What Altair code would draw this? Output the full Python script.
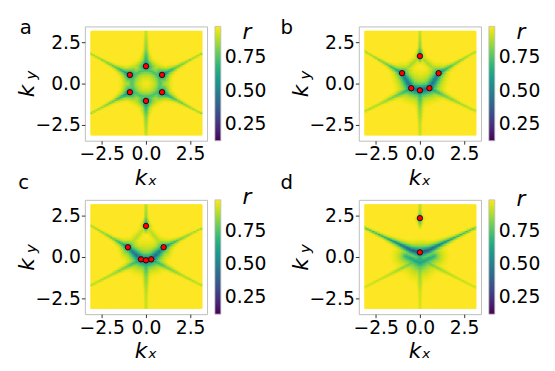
import numpy as np
import pandas as pd
import altair as alt

PI = np.pi
N = 72
DOM = 3.456
VMIN, VMAX = 0.125, 0.98

# ---- red markers ----
A_DOT_KX = [0.0, 0.91, -0.91, -0.91, 0.0, 0.91]
A_DOT_KY = [1.05, 0.525, 0.525, -0.525, -1.05, -0.525]
B_DOT_KX = [0.0, -1.01, 1.06, -0.49, 0.0, 0.54]
B_DOT_KY = [1.66, 0.63, 0.63, -0.28, -0.41, -0.28]
C_DOT_KX = [0.0, -1.02, 1.0, -0.28, 0.0, 0.3]
C_DOT_KY = [1.88, 0.59, 0.59, -0.14, -0.2, -0.14]
D_DOT_KX = [0.0, 0.0]
D_DOT_KY = [2.35, 0.28]

# ---- field structure: arms (start, angle), profiles along arm ----
ARM_S = [0.0, 0.4, 1.0, 2.0, 4.5]
A_ARM_ANG = [90, 30, 150, 210, 270, 330]
A_ARM_L = [0.45, 0.62, 0.73, 0.81, 0.86]
A_ARM_W = [0.36, 0.18, 0.095, 0.06, 0.045]
A_RING = (0.80, 0.72, 0.32)  # radius, level, width

B_UP_ANG = [148, 32]
B_LOW_ANG = [208, 270, 332]
UP_L = [0.48, 0.63, 0.74, 0.82, 0.86]
UP_W = [0.30, 0.16, 0.09, 0.06, 0.045]
LOW_L = [0.52, 0.67, 0.76, 0.83, 0.88]
LOW_W = [0.45, 0.24, 0.13, 0.08, 0.055]
TOP_S = [0.0, 0.45, 1.0, 2.0, 4.8]
TOP_L = [0.88, 0.50, 0.68, 0.78, 0.84]
TOP_W = [0.05, 0.15, 0.06, 0.045, 0.04]
B_BAND_L = [0.48, 0.37, 0.35, 0.37, 0.48]
B_BAND_W = [0.24, 0.32, 0.34, 0.32, 0.24]
C_UP_ANG = [148, 28]
C_LOW_ANG = [209, 270, 331]
C_BAND_L = [0.50, 0.33, 0.29, 0.33, 0.50]
C_BAND_W = [0.22, 0.33, 0.35, 0.33, 0.22]
D_SMILE_KX = [0.0, 0.5, 1.3, 2.2, 3.6]
D_SMILE_KY = [0.28, 0.42, 0.85, 1.30, 2.0]
D_SMILE_S = [0.0, 0.5, 1.2, 2.2, 4.0]
D_SMILE_L = [0.24, 0.31, 0.44, 0.62, 0.79]
D_SMILE_W = [0.27, 0.21, 0.14, 0.085, 0.06]
D_LOW_ANG = [209, 270, 331]
D_LOW_L = [0.64, 0.72, 0.80, 0.86, 0.90]
D_LOW_W = [0.48, 0.27, 0.14, 0.08, 0.055]
D_SKIRT_KX = [-0.8, 0.0, 0.8]
D_SKIRT_KY = [0.05, -0.35, 0.05]
D_SKIRT_L = [0.66, 0.60, 0.66]
D_SKIRT_W = [0.34, 0.46, 0.34]

g = (np.arange(N) + 0.5) / N * 2 * PI - PI
KX, KY = np.meshgrid(g, g)


def ray(p, ang, s, L, W, length=6.0):
    a = np.deg2rad(ang)
    return dict(pts=[p, (p[0] + length * np.cos(a), p[1] + length * np.sin(a))], s=s, L=L, W=W)


def path_value(f):
    pts = np.array(f["pts"], float)
    best = np.full(KX.shape, np.inf)
    bs = np.zeros(KX.shape)
    cum = 0.0
    for a, b in zip(pts[:-1], pts[1:]):
        ab = b - a
        l2 = ab @ ab
        ln = np.sqrt(l2)
        t = np.clip(((KX - a[0]) * ab[0] + (KY - a[1]) * ab[1]) / l2, 0, 1)
        d = np.hypot(KX - a[0] - t * ab[0], KY - a[1] - t * ab[1])
        m = d < best
        best[m] = d[m]
        bs[m] = cum + t[m] * ln
        cum += ln
    L = np.interp(bs, f["s"], f["L"])
    W = np.interp(bs, f["s"], f["W"])
    return 1 - (1 - L) * np.exp(-best / W)


def field(features, ring=None):
    v = np.ones(KX.shape)
    for f in features:
        v = np.minimum(v, path_value(f))
    if ring is not None:
        R, L, W = ring
        v = np.minimum(v, 1 - (1 - L) * np.exp(-np.abs(np.hypot(KX, KY) - R) / W))
    return np.clip(v, VMIN, VMAX)


def cum_len(pts):
    out = [0.0]
    for a, b in zip(pts[:-1], pts[1:]):
        out.append(out[-1] + float(np.hypot(b[0] - a[0], b[1] - a[1])))
    return out


# panel a
fa = [ray((A_DOT_KX[i], A_DOT_KY[i]), ang, ARM_S, A_ARM_L, A_ARM_W)
      for i, ang in enumerate(A_ARM_ANG)]
field_a = field(fa, A_RING)

# panel b
T, UL, UR, LL, B, LR = list(zip(B_DOT_KX, B_DOT_KY))
fb = [dict(pts=[(0, 1.2), (0, 6)], s=TOP_S, L=TOP_L, W=TOP_W),
      ray(UL, B_UP_ANG[0], ARM_S, UP_L, UP_W), ray(UR, B_UP_ANG[1], ARM_S, UP_L, UP_W),
      ray(LL, B_LOW_ANG[0], ARM_S, LOW_L, LOW_W), ray(B, B_LOW_ANG[1], ARM_S, LOW_L, LOW_W),
      ray(LR, B_LOW_ANG[2], ARM_S, LOW_L, LOW_W)]
band = [UL, LL, B, LR, UR]
fb.append(dict(pts=band, s=cum_len(band), L=B_BAND_L, W=B_BAND_W))
haze = [UL, T, UR]
fb.append(dict(pts=haze, s=cum_len(haze), L=[0.84, 0.86, 0.84], W=[0.25, 0.15, 0.25]))
field_b = field(fb)

# panel c
T, UL, UR, LL, B, LR = list(zip(C_DOT_KX, C_DOT_KY))
fc = [dict(pts=[(0, 1.4), (0, 6)], s=TOP_S, L=TOP_L, W=TOP_W),
      ray(UL, C_UP_ANG[0], ARM_S, UP_L, UP_W), ray(UR, C_UP_ANG[1], ARM_S, UP_L, UP_W),
      ray(LL, C_LOW_ANG[0], ARM_S, LOW_L, LOW_W), ray(B, C_LOW_ANG[1], ARM_S, LOW_L, LOW_W),
      ray(LR, C_LOW_ANG[2], ARM_S, LOW_L, LOW_W)]
band = [UL, LL, B, LR, UR]
fc.append(dict(pts=band, s=cum_len(band), L=C_BAND_L, W=C_BAND_W))
haze = [UL, T, UR]
fc.append(dict(pts=haze, s=cum_len(haze), L=[0.86, 0.88, 0.86], W=[0.25, 0.15, 0.25]))
field_c = field(fc)

# panel d
smile_r = list(zip(D_SMILE_KX, D_SMILE_KY))
smile_l = [(-x, y) for x, y in smile_r]
skirt = list(zip(D_SKIRT_KX, D_SKIRT_KY))
fd = [dict(pts=[(0, 1.7), (0, 6)], s=[0, 0.65, 1.0, 2.0, 4.3],
           L=[0.88, 0.52, 0.70, 0.78, 0.84], W=[0.04, 0.12, 0.05, 0.04, 0.04]),
      dict(pts=smile_r, s=D_SMILE_S, L=D_SMILE_L, W=D_SMILE_W),
      dict(pts=smile_l, s=D_SMILE_S, L=D_SMILE_L, W=D_SMILE_W),
      dict(pts=skirt, s=cum_len(skirt), L=D_SKIRT_L, W=D_SKIRT_W)]
for ang in D_LOW_ANG:
    fd.append(ray((0.0, -0.1), ang, ARM_S, D_LOW_L, D_LOW_W))
field_d = field(fd)

H = PI / N


def grid_df(v):
    return pd.DataFrame({"kx": np.round(KX.ravel(), 4), "ky": np.round(KY.ravel(), 4),
                         "r": np.round(v.ravel(), 3)})


FONT = "DejaVu Sans"
xs = alt.Scale(domain=[-DOM, DOM], nice=False, zero=False)
ys = alt.Scale(domain=[-DOM, DOM], nice=False, zero=False)
ax = dict(values=[-2.5, 0, 2.5], format=".1f", title=None, grid=False, domain=False,
          tickSize=3.5, tickWidth=0.8, tickColor="black", labelFontSize=19, labelFont=FONT,
          labelColor="black", labelPadding=1)


def txt(s, x, y, size=20, style="normal", angle=0, align="center"):
    return alt.Chart(pd.DataFrame({"t": [s]})).mark_text(
        font=FONT, fontSize=size, fontStyle=style, angle=angle, align=align,
        baseline="alphabetic", color="black").encode(
        x=alt.value(x), y=alt.value(y), text="t:N")


def panel(v, dkx, dky, letter, lx, ly, ry):
    heat = alt.Chart(grid_df(v)).transform_calculate(
        x0=f"datum.kx - {H}", x1=f"datum.kx + {H * 2.2}",
        y0=f"datum.ky - {H}", y1=f"datum.ky + {H * 2.2}").mark_rect(strokeWidth=0).encode(
        x=alt.X("x0:Q", scale=xs, axis=alt.Axis(**ax)),
        x2="x1:Q",
        y=alt.Y("y0:Q", scale=ys, axis=alt.Axis(**ax)),
        y2="y1:Q",
        color=alt.Color("r:Q", scale=alt.Scale(scheme="viridis", domain=[VMIN, VMAX]),
                        legend=alt.Legend(title=None, values=[0.25, 0.5, 0.75], format=".2f",
                                          orient="right", direction="vertical",
                                          gradientLength=116, gradientThickness=6, offset=8,
                                          padding=0, labelFontSize=19, labelFont=FONT,
                                          labelColor="black", labelOffset=4,
                                          gradientStrokeColor="#bbbbbb",
                                          gradientStrokeWidth=0.8, labelOverlap=False)))
    dots = alt.Chart(pd.DataFrame({"kx": dkx, "ky": dky})).mark_circle(
        color="red", stroke="black", strokeWidth=0.8, size=30, opacity=1).encode(
        x="kx:Q", y="ky:Q")
    layers = [heat, dots,
              txt(letter, lx, ly, 20),
              txt("kₓ", 62, 161, 22, "italic"),
              txt("k", -52, 65.5, 22, "italic", angle=270),
              txt("y", -49.5, 49.5, 15, "italic", angle=270),
              txt("r", 164.5, ry, 22, "italic")]
    return alt.layer(*layers).properties(width=124, height=116)


pa = panel(field_a, A_DOT_KX, A_DOT_KY, "a", -60, 8, 13)
pb = panel(field_b, B_DOT_KX, B_DOT_KY, "b", -73, 8, 13)
pc = panel(field_c, C_DOT_KX, C_DOT_KY, "c", -62, -11, 4)
pd_ = panel(field_d, D_DOT_KX, D_DOT_KY, "d", -73, -11, 6)

chart = alt.concat(pa, pb, pc, pd_, columns=2, spacing={"row": 60, "column": 154},
                   bounds="flush").resolve_scale(color="independent").configure_view(
    stroke="#bdbdbd", strokeWidth=1).properties(padding={"left": 7, "top": 7, "right": 5, "bottom": 5})

chart.save("out.html", embed_options={"renderer": "svg", "actions": False})
